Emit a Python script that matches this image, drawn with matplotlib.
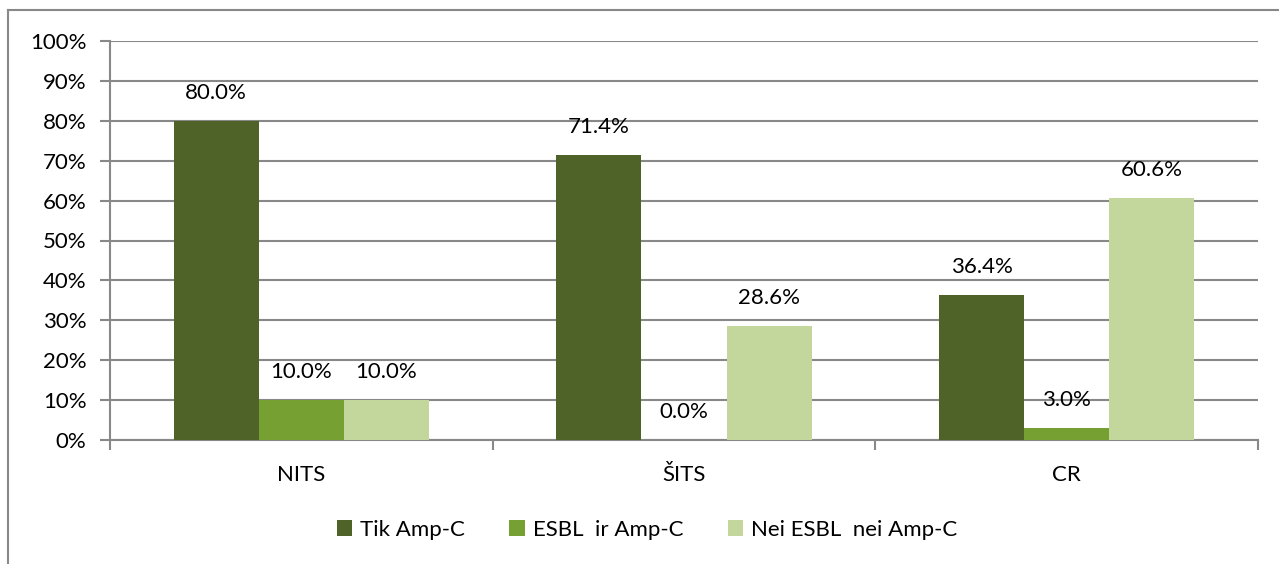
import matplotlib
matplotlib.use("Agg")
import matplotlib.pyplot as plt
from matplotlib.lines import Line2D
import numpy as np

categories = ["NITS", "ŠITS", "CR"]
series_names = ["Tik Amp-C", "ESBL  ir Amp-C", "Nei ESBL  nei Amp-C"]
tik_amp_c = [80.0, 71.4, 36.4]
esbl_ir_amp_c = [10.0, 0.0, 3.0]
nei_esbl_nei_amp_c = [10.0, 28.6, 60.6]
y_ticks = [0, 10, 20, 30, 40, 50, 60, 70, 80, 90, 100]

series = [tik_amp_c, esbl_ir_amp_c, nei_esbl_nei_amp_c]
colors = ["#4F6228", "#77A033", "#C3D69B"]

plt.rcParams['font.family'] = ['Lato', 'DejaVu Sans']
grid_c = "#888888"
fs = 16

fig = plt.figure(figsize=(12.79, 5.64), dpi=100)
ax = fig.add_axes([110/1279, 1-440/564, (1258-110)/1279, (440-41)/564])

x = np.arange(len(categories))
bw = 2/9
for k, (vals, name, c) in enumerate(zip(series, series_names, colors)):
    pos = x + (k-1)*bw
    ax.bar(pos, vals, width=bw, color=c, label=name, zorder=3)
    for px, v in zip(pos, vals):
        ax.annotate(f"{v:.1f}%", (px, v), xytext=(0, 20), textcoords="offset points",
                    ha="center", va="center", fontsize=fs, color="black", zorder=4)

ax.set_xlim(-0.5, len(categories)-0.5)
ax.set_ylim(0, 100)
ax.set_yticks(y_ticks)
ax.set_yticklabels([f"{t}%" for t in y_ticks], fontsize=fs)
ax.yaxis.grid(True, color=grid_c, linewidth=1.5, zorder=0)
ax.set_xticks(x)
ax.set_xticklabels(categories, fontsize=fs)
ax.set_xticks(np.arange(len(categories)+1)-0.5, minor=True)
ax.tick_params(axis='x', which='major', length=0, pad=18)
ax.tick_params(axis='x', which='minor', length=7, width=1.5, color=grid_c)
ax.tick_params(axis='y', length=7, width=1.5, color=grid_c, pad=10)
for s in ['top', 'right']:
    ax.spines[s].set_visible(False)
for s in ['left', 'bottom']:
    ax.spines[s].set_color(grid_c)
    ax.spines[s].set_linewidth(1.5)

ax.legend(loc='center', bbox_to_anchor=(647/1279, 1-530/564), bbox_transform=fig.transFigure,
          ncol=3, frameon=False, fontsize=fs, handlelength=0.7, handleheight=0.7,
          handletextpad=0.35, columnspacing=2.0)

bx = 8/1279
by = 1-10/564
fig.add_artist(Line2D([bx, bx], [0, by], color=grid_c, linewidth=1.5, transform=fig.transFigure))
fig.add_artist(Line2D([bx, 1], [by, by], color=grid_c, linewidth=1.5, transform=fig.transFigure))

fig.savefig("out.png", dpi=100)
